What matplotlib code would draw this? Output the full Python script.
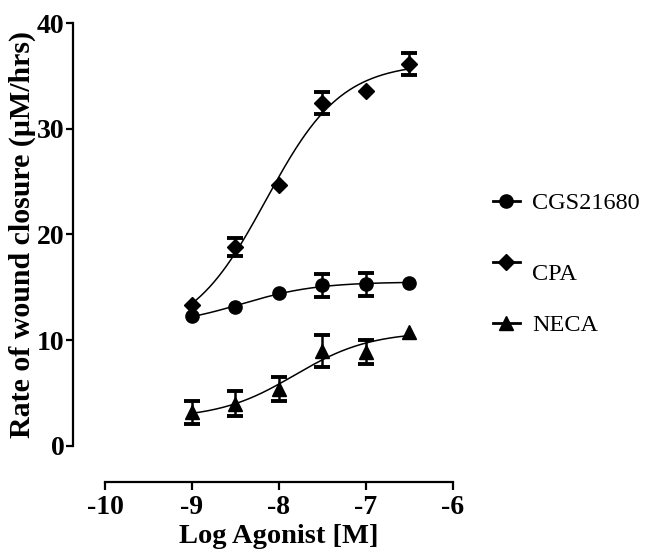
import numpy as np
import matplotlib
matplotlib.use("Agg")
import matplotlib.pyplot as plt

plt.rcParams['font.family'] = ['Liberation Serif', 'DejaVu Serif']
plt.rcParams['axes.unicode_minus'] = False

log_dose = [-9, -8.5, -8, -7.5, -7, -6.5]

cgs_mean = [12.3, 13.1, 14.5, 15.2, 15.3, 15.4]
cgs_sem = [0, 0, 0, 1.1, 1.1, 0]

cpa_mean = [13.3, 18.8, 24.7, 32.4, 33.6, 36.1]
cpa_sem = [0, 0.85, 0, 1.05, 0, 1.05]

neca_mean = [3.2, 4.0, 5.4, 9.0, 8.9, 10.8]
neca_sem = [1.1, 1.2, 1.1, 1.5, 1.1, 0]


def fit_sigmoid(x, y):
    # log(agonist) vs response, hill slope fixed at 1; grid over EC50,
    # least squares for bottom/top
    x = np.asarray(x, float)
    y = np.asarray(y, float)
    best = None
    for ec in np.linspace(-10, -5.5, 451):
        s = 1 / (1 + 10 ** (ec - x))
        A = np.column_stack([np.ones_like(s), s])
        coef, *_ = np.linalg.lstsq(A, y, rcond=None)
        err = np.sum((A @ coef - y) ** 2)
        if best is None or err < best[0]:
            best = (err, ec, coef)
    _, ec, coef = best
    return lambda xx: coef[0] + coef[1] / (1 + 10 ** (ec - xx))


fig = plt.figure(figsize=(6.46, 5.53), dpi=100)
ax = fig.add_axes([0.1625, 0.1935, 0.5387, 0.7649])

xs = np.linspace(-9, -6.5, 200)
series = [
    ("CGS21680", cgs_mean, cgs_sem, "o", 9.5),
    ("CPA", cpa_mean, cpa_sem, "D", 8.5),
    ("NECA", neca_mean, neca_sem, "^", 10.5),
]
handles = []
for name, m, e, mk, ms in series:
    f = fit_sigmoid(log_dose, m)
    ax.plot(xs, f(xs), color="black", lw=1.1)
    err = np.array(e, float)
    idx = err > 0
    ax.errorbar(np.array(log_dose)[idx], np.array(m)[idx], yerr=err[idx],
                fmt="none", ecolor="black", elinewidth=1.8, capsize=6,
                capthick=2.8)
    ax.plot(log_dose, m, linestyle="none", marker=mk, color="black", ms=ms)
    h, = ax.plot([], [], color="black", lw=2, marker=mk, ms=ms, label=name)
    handles.append(h)

ax.set_xlim(-10, -6)
ax.set_ylim(0, 40)
ax.set_xticks([-10, -9, -8, -7, -6])
ax.set_yticks([0, 10, 20, 30, 40])
for s in ["top", "right"]:
    ax.spines[s].set_visible(False)
ax.spines["left"].set_position(("outward", 23))
ax.spines["bottom"].set_position(("outward", 26))
for s in ["left", "bottom"]:
    ax.spines[s].set_linewidth(1.6)
ax.tick_params(axis="x", width=1.6, length=6, labelsize=20, pad=3)
ax.tick_params(axis="y", width=1.6, length=5, labelsize=20, pad=1)
for lab in ax.get_xticklabels() + ax.get_yticklabels():
    lab.set_fontweight("bold")

ax.set_xlabel("Log Agonist [M]", fontsize=20.5, fontweight="bold", labelpad=3)
ax.set_ylabel("Rate of wound closure (\u00b5M/hrs)", fontsize=21.5,
              fontweight="bold", labelpad=1)

leg = fig.legend(handles=handles, loc="center left",
                 bbox_to_anchor=(0.763, 0.522), frameon=False, fontsize=17.5,
                 handlelength=1.1, handletextpad=0.5, labelspacing=1.6,
                 borderpad=0, borderaxespad=0)
leg.get_texts()[1].set_y(-10)

fig.savefig("out.png", dpi=100)
